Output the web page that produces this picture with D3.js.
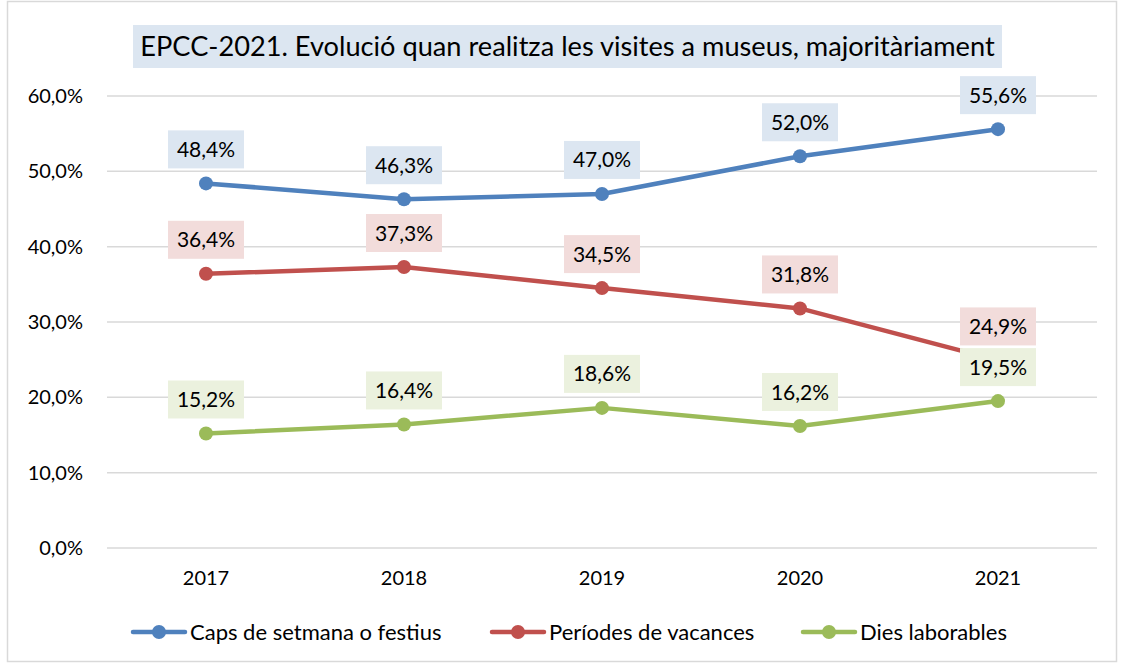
<!DOCTYPE html>
<html><head><meta charset="utf-8">
<script src="https://cdn.jsdelivr.net/npm/d3@7"></script>
<style>body{margin:0;background:#fff}svg{display:block}text{font-family:Lato, "Open Sans", sans-serif;fill:#000}</style>
</head><body>
<svg id="c" width="1121" height="664"></svg>
<script>
const years = ["2017","2018","2019","2020","2021"];
const seriesNames = ["Caps de setmana o festius","Períodes de vacances","Dies laborables"];
const capsValues = [48.4,46.3,47.0,52.0,55.6];
const vacancesValues = [36.4,37.3,34.5,31.8,24.9];
const laborablesValues = [15.2,16.4,18.6,16.2,19.5];
const yTicks = [0,10,20,30,40,50,60];
const title = "EPCC-2021. Evolució quan realitza les visites a museus, majoritàriament";
const lineColors = ["#4f81bd","#c0504d","#9bbb59"];
const boxColors = ["#dce6f1","#f2dcdb","#ebf1de"];

const svg = d3.select("#c");
svg.append("rect").attr("x",7.5).attr("y",1.5).attr("width",1109).attr("height",660)
  .attr("fill","#fff").attr("stroke","#d9d9d9").attr("stroke-width",1.5);

const x = d3.scaleBand().domain(years).range([107,1097]);
const y = d3.scaleLinear().domain([0,60]).range([548,96]);
const fmt = v => d3.format(".1f")(v).replace(".",",") + "%";

// grid
svg.append("g").selectAll("line").data(yTicks).join("line")
  .attr("x1",107).attr("x2",1097).attr("y1",d=>y(d)).attr("y2",d=>y(d))
  .attr("stroke","#d9d9d9").attr("stroke-width",1.5);
// y labels
svg.append("g").selectAll("text").data(yTicks).join("text")
  .attr("x",83).attr("y",d=>y(d)).attr("dy","0.35em").attr("text-anchor","end")
  .attr("font-size",20).text(d=>fmt(d));
// x labels
svg.append("g").selectAll("text").data(years).join("text")
  .attr("x",d=>x(d)+x.bandwidth()/2).attr("y",578).attr("dy","0.35em").attr("text-anchor","middle")
  .attr("font-size",20).text(d=>d);

const data = [capsValues, vacancesValues, laborablesValues];
const line = d3.line().x((d,i)=>x(years[i])+x.bandwidth()/2).y(d=>y(d));
data.forEach((vals,s)=>{
  const g = svg.append("g");
  g.append("path").attr("d",line(vals)).attr("fill","none").attr("stroke",lineColors[s])
    .attr("stroke-width",4.5).attr("stroke-linecap","round").attr("stroke-linejoin","round");
  g.selectAll("circle").data(vals).join("circle")
    .attr("cx",(d,i)=>x(years[i])+x.bandwidth()/2).attr("cy",d=>y(d)).attr("r",7)
    .attr("fill",lineColors[s]);
});
// labels
data.forEach((vals,s)=>{
  const g = svg.append("g");
  vals.forEach((v,i)=>{
    const cx = x(years[i])+x.bandwidth()/2, cy = y(v);
    g.append("rect").attr("x",cx-38).attr("y",cy-15-38).attr("width",76).attr("height",38)
      .attr("fill",boxColors[s]);
    g.append("text").attr("x",cx).attr("y",cy-15-19).attr("dy","0.36em").attr("text-anchor","middle")
      .attr("font-size",21).text(fmt(v));
  });
});
// title
svg.append("rect").attr("x",133).attr("y",25).attr("width",869).attr("height",43).attr("fill","#dce6f1");
svg.append("text").attr("x",567.5).attr("y",46.5).attr("dy","0.36em").attr("text-anchor","middle")
  .attr("font-size",27.2).text(title);
// legend
const legX = [133,492,803];
seriesNames.forEach((n,s)=>{
  const g = svg.append("g");
  g.append("line").attr("x1",legX[s]).attr("x2",legX[s]+52).attr("y1",632).attr("y2",632)
    .attr("stroke",lineColors[s]).attr("stroke-width",4.5).attr("stroke-linecap","round");
  g.append("circle").attr("cx",legX[s]+26).attr("cy",632).attr("r",7).attr("fill",lineColors[s]);
  g.append("text").attr("x",legX[s]+57).attr("y",632).attr("dy","0.35em").attr("font-size",22).text(n);
});
</script>
</body></html>
